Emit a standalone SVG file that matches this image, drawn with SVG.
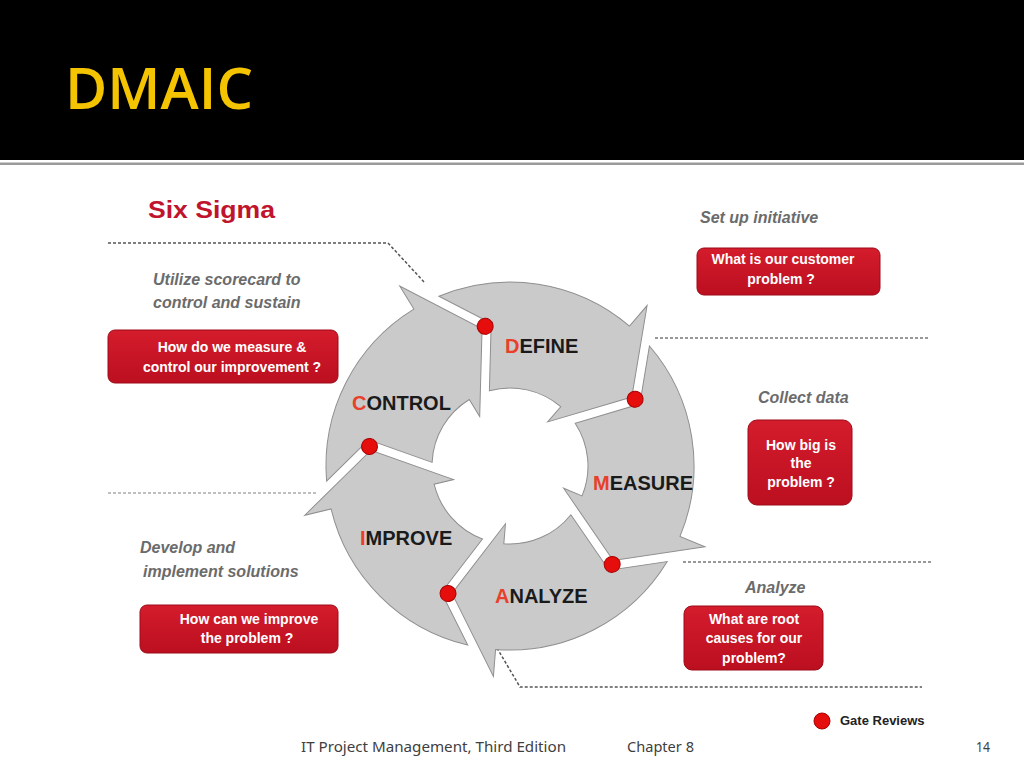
<svg xmlns="http://www.w3.org/2000/svg" xmlns:xlink="http://www.w3.org/1999/xlink" width="1024" height="768" viewBox="0 0 1024 768">
<style>
.ital{font-family:"Liberation Sans",Arial,sans-serif;font-weight:bold;font-style:italic;font-size:16px;fill:#6b6b6b}
.box{stroke:#9c0a18;stroke-width:1;fill:url(#rg)}
.bt{font-family:"Liberation Sans",Arial,sans-serif;font-weight:bold;font-size:14px;fill:#ffffff;text-anchor:middle}
.lbl{font-family:"Liberation Sans",Arial,sans-serif;font-weight:bold;font-size:20px;fill:#1a1a1a}
.fl{fill:#e8402a}
.arr{fill:#cacaca;stroke:#8f8f8f;stroke-width:1}
.gate{fill:#e60d0d;stroke:#a80000;stroke-width:1}
.dash{fill:none;stroke:#555;stroke-width:1.5;stroke-dasharray:3 2}
.foot{font-family:"Noto Sans","Liberation Sans",sans-serif;font-size:15px;fill:#404040}
</style>
<defs>
<linearGradient id="rg" x1="0" y1="0" x2="0" y2="1">
<stop offset="0" stop-color="#d41c2c"/>
<stop offset="1" stop-color="#bb0f20"/>
</linearGradient>
<path id="arrow" class="arr" d="M180.5,-35.8 A184,184 0 0 1 113.3,145 L129.9,166.3 L43.3,133.1 L35.7,45.7 L48,61.5 A78,78 0 0 0 77.8,-5.2 L143.5,10 Z"/>
<circle id="dot" class="gate" cx="141.8" cy="3.5" r="8"/>
</defs>
<rect x="0" y="0" width="1024" height="768" fill="#ffffff"/>
<g id="header">
<rect x="0" y="0" width="1024" height="160" fill="#000000"/>
<rect x="0" y="162.5" width="1024" height="2.5" fill="#9a9a9a"/>
<text x="65" y="109" font-family="Open Sans, Liberation Sans, sans-serif" font-weight="600" font-size="58" fill="#f5c400" textLength="188" lengthAdjust="spacingAndGlyphs">DMAIC</text>
</g>
<g id="title">
<text x="148" y="218" font-family="Liberation Sans, Arial, sans-serif" font-weight="bold" font-size="24" fill="#c0142c" textLength="127" lengthAdjust="spacingAndGlyphs">Six Sigma</text>
</g>
<g id="dividers">
<polyline class="dash" points="108,243 388,243 425,283"/>
<line class="dash" x1="655" y1="338" x2="930" y2="338" style="stroke:#777"/>
<line class="dash" x1="108" y1="493" x2="318" y2="493" style="stroke:#aaa"/>
<line class="dash" x1="683" y1="562" x2="933" y2="562" style="stroke:#777"/>
<polyline class="dash" points="497,648 520,687 922,687"/>
</g>
<g id="cycle">
<g id="define">
<use xlink:href="#arrow" href="#arrow" transform="translate(510,466) rotate(-101.5)"/>
<text class="lbl" x="505" y="353"><tspan class="fl">D</tspan>EFINE</text>
</g>
<g id="measure">
<use xlink:href="#arrow" href="#arrow" transform="translate(510,466) rotate(-29.5)"/>
<text class="lbl" x="593" y="490"><tspan class="fl">M</tspan>EASURE</text>
</g>
<g id="analyze">
<use xlink:href="#arrow" href="#arrow" transform="translate(510,466) rotate(42.5)"/>
<text class="lbl" x="495" y="603"><tspan class="fl">A</tspan>NALYZE</text>
</g>
<g id="improve">
<use xlink:href="#arrow" href="#arrow" transform="translate(510,466) rotate(114.5)"/>
<text class="lbl" x="360" y="545"><tspan class="fl">I</tspan>MPROVE</text>
</g>
<g id="control">
<use xlink:href="#arrow" href="#arrow" transform="translate(510,466) rotate(186.5)"/>
<text class="lbl" x="352" y="410"><tspan class="fl">C</tspan>ONTROL</text>
</g>
<g id="gates">
<use xlink:href="#dot" href="#dot" transform="translate(510,466) rotate(-101.5)"/>
<use xlink:href="#dot" href="#dot" transform="translate(510,466) rotate(-29.5)"/>
<use xlink:href="#dot" href="#dot" transform="translate(510,466) rotate(42.5)"/>
<use xlink:href="#dot" href="#dot" transform="translate(510,466) rotate(114.5)"/>
<use xlink:href="#dot" href="#dot" transform="translate(510,466) rotate(186.5)"/>
</g>
</g>
<g id="control-note">
<text class="ital" x="153" y="285">Utilize scorecard to</text>
<text class="ital" x="153" y="308">control and sustain</text>
<rect class="box" x="108" y="330" width="230" height="53" rx="7"/>
<text class="bt" x="232" y="352">How do we measure &amp;</text>
<text class="bt" x="232" y="372">control our improvement ?</text>
</g>
<g id="define-note">
<text class="ital" x="700" y="223">Set up initiative</text>
<rect class="box" x="697" y="248" width="183" height="47" rx="7"/>
<text class="bt" x="783" y="264">What is our customer</text>
<text class="bt" x="781" y="284">problem ?</text>
</g>
<g id="measure-note">
<text class="ital" x="758" y="403">Collect data</text>
<rect class="box" x="748" y="420" width="104" height="85" rx="9"/>
<text class="bt" x="801" y="450">How big is</text>
<text class="bt" x="801" y="468">the</text>
<text class="bt" x="801" y="487">problem ?</text>
</g>
<g id="improve-note">
<text class="ital" x="140" y="553">Develop and</text>
<text class="ital" x="143" y="577">implement solutions</text>
<rect class="box" x="140" y="605" width="198" height="48" rx="7"/>
<text class="bt" x="249" y="624">How can we improve</text>
<text class="bt" x="247" y="643">the problem ?</text>
</g>
<g id="analyze-note">
<text class="ital" x="745" y="593">Analyze</text>
<rect class="box" x="684" y="606" width="139" height="64" rx="8"/>
<text class="bt" x="754" y="624">What are root</text>
<text class="bt" x="754" y="643">causes for our</text>
<text class="bt" x="754" y="663">problem?</text>
</g>
<g id="legend">
<circle class="gate" cx="822" cy="721" r="8"/>
<text x="840" y="725" font-family="Liberation Sans, Arial, sans-serif" font-weight="bold" font-size="13" fill="#222">Gate Reviews</text>
</g>
<g id="footer">
<text class="foot" x="301" y="752" textLength="265" lengthAdjust="spacingAndGlyphs">IT Project Management, Third Edition</text>
<text class="foot" x="627" y="752" textLength="67" lengthAdjust="spacingAndGlyphs">Chapter 8</text>
<text class="foot" x="976" y="752" textLength="14" lengthAdjust="spacingAndGlyphs">14</text>
</g>
</svg>
